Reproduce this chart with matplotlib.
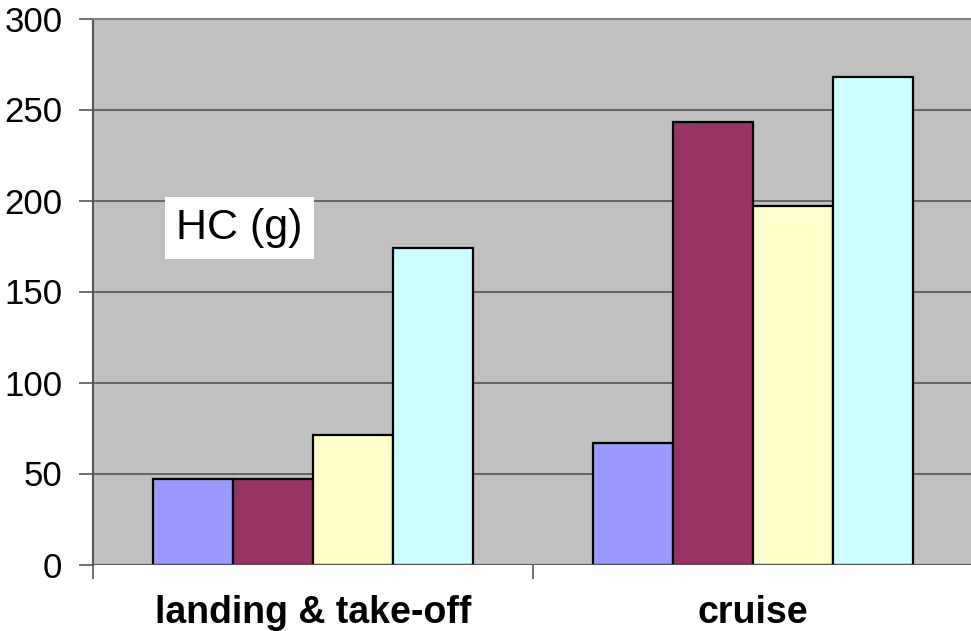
import numpy as np
import matplotlib.pyplot as plt

plt.rcParams["font.family"] = ["Liberation Sans", "DejaVu Sans"]

categories = ["landing & take-off", "cruise"]
series_1 = [47, 67]
series_2 = [47, 243]
series_3 = [71, 197]
series_4 = [174, 268]
colors = ["#9999FF", "#993366", "#FFFFCC", "#CCFFFF"]
y_ticks = [0, 50, 100, 150, 200, 250, 300]

W, H = 971, 631
fig = plt.figure(figsize=(W / 100, H / 100), dpi=100)
ax = fig.add_axes([93 / W, (H - 564.5) / H, 880 / W, 546 / H])
ax.set_facecolor("#C0C0C0")

x = np.arange(len(categories))
bar_w = 80 / 440
all_series = [series_1, series_2, series_3, series_4]
for i, (vals, c) in enumerate(zip(all_series, colors)):
    offset = (i - 1.5) * bar_w
    ax.bar(x + offset, vals, width=bar_w, color=c, edgecolor="black",
           linewidth=1.6, zorder=3)

ax.set_ylim(0, 300)
ax.set_xlim(-0.5, 1.5)
ax.set_yticks(y_ticks)
ax.set_yticklabels([str(t) for t in y_ticks], fontsize=25)
ax.yaxis.grid(True, color="#555555", linewidth=1.2, zorder=1)
ax.set_axisbelow(True)

ax.set_xticks([-0.5, 0.5, 1.5])
ax.set_xticklabels([])
ax.set_xticks(x, minor=True)
ax.set_xticklabels(categories, minor=True, fontsize=27, fontweight="bold")
ax.tick_params(axis="x", which="minor", length=0, pad=22)
ax.tick_params(axis="x", which="major", length=10, width=1.2, color="#555555")
ax.tick_params(axis="y", length=10, width=1.2, color="#555555", pad=12)

for side in ["right", "bottom"]:
    ax.spines[side].set_visible(False)
ax.spines["left"].set_color("#555555")
ax.spines["left"].set_linewidth(1.5)
ax.spines["top"].set_color("#808080")
ax.spines["top"].set_linewidth(1.5)
ax.axhline(0, color="#555555", linewidth=1.5, zorder=4)

fig.text(239.5 / W, 1 - 228 / H, "HC (g)", fontsize=31, ha="center", va="center",
         bbox=dict(facecolor="white", edgecolor="none", pad=8))

fig.savefig("out.png", dpi=100)
